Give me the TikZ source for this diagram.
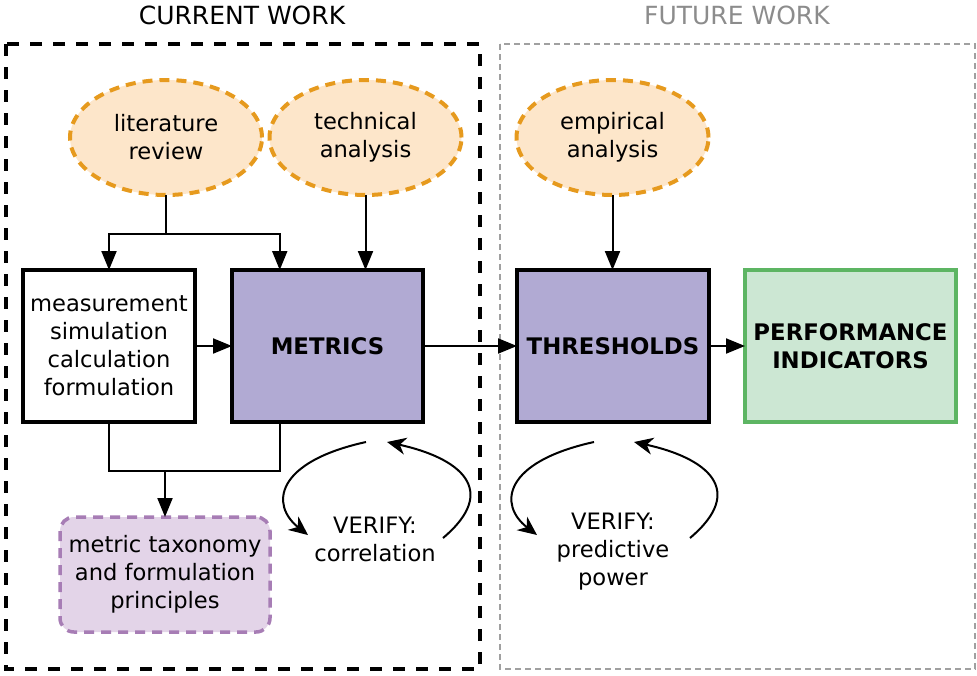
\documentclass[tikz,border=0pt]{standalone}
\usepackage{fontspec}
\setmainfont{DejaVu Sans}
\usetikzlibrary{shapes.geometric,arrows.meta,calc}

\definecolor{srcline}{HTML}{E69A1E}
\definecolor{srcfill}{HTML}{FDE6CA}
\definecolor{coreFill}{HTML}{B1AAD3}
\definecolor{kpiLine}{HTML}{5DB563}
\definecolor{kpiFill}{HTML}{CCE7D3}
\definecolor{taxLine}{HTML}{A77DB5}
\definecolor{taxFill}{HTML}{E3D4E8}
\definecolor{futureGray}{HTML}{8C8C8C}
\definecolor{futureFrame}{HTML}{A0A0A0}

\tikzset{
  txt/.style={font=\fontsize{22.6}{28}\selectfont, align=center, inner sep=0pt, outer sep=0pt},
  source/.style={txt, ellipse, draw=srcline, fill=srcfill, line width=4pt,
    dash pattern=on 10pt off 7pt, minimum width=192pt, minimum height=115pt},
  plainbox/.style={txt, rectangle, draw=black, fill=white, line width=4pt,
    minimum height=152pt},
  corebox/.style={plainbox, fill=coreFill, font=\fontsize{22.8}{28}\selectfont\bfseries},
  kpibox/.style={corebox, draw=kpiLine, fill=kpiFill},
  taxbox/.style={txt, rectangle, rounded corners=14pt, draw=taxLine, fill=taxFill,
    line width=3.5pt, dash pattern=on 10pt off 7pt, minimum width=210pt, minimum height=115pt},
  conn/.style={line width=2pt, draw=black},
  arrow/.style={conn, -{Triangle[length=19pt,width=15pt]}},
  loop/.style={conn, -{Stealth[length=19pt,width=17pt,inset=6pt]}},
  title/.style={font=\fontsize{25}{28}\selectfont, inner sep=0pt},
}

\begin{document}
\begin{tikzpicture}[x=1pt,y=-1pt]
  \useasboundingbox (0,0) rectangle (977,675);

  % work areas
  \draw[line width=4.5pt, dash pattern=on 12pt off 11pt] (6,44) rectangle (480,669);
  \draw[futureFrame, line width=1.8pt, dash pattern=on 6pt off 4pt] (500,44) rectangle (975,669);
  \node[title] (curTitle) at (242,15) {CURRENT WORK};
  \node[title, text=futureGray] (futTitle) at (737,15) {FUTURE WORK};

  % sources
  \node[source] (lit) at (166,137.5) {literature\\review};
  \node[source] (tech) at (365.5,137.5) {technical\\analysis};
  \node[source] (emp) at (612.5,137.5) {empirical\\analysis};

  % main chain
  \node[plainbox, minimum width=172pt] (meas) at (109,346)
    {measurement\\simulation\\calculation\\formulation};
  \node[corebox, minimum width=191pt] (metrics) at (327.5,346) {METRICS};
  \node[corebox, minimum width=192pt] (thr) at (613,346) {THRESHOLDS};
  \node[kpibox, minimum width=211pt] (kpi) at (850.5,346) {PERFORMANCE\\INDICATORS};

  % outcome
  \node[taxbox] (tax) at (165,574.5) {metric taxonomy\\and formulation\\principles};

  % verification labels
  \node[txt] (verCor) at (375,539) {VERIFY:\\correlation};
  \node[txt] (verPred) at (613,552) {VERIFY:\\predictive\\power};

  % connectors from the sources
  \coordinate (split) at (lit.south |- 0,234);
  \coordinate (metIn) at ($(metrics.north west)!0.25!(metrics.north east)$);
  \draw[conn] (lit.south) -- (split);
  \draw[arrow] (split) -| (meas.north);
  \draw[arrow] (split) -| (metIn);
  \draw[arrow] (tech.south) -- (tech.south |- metrics.north);
  \draw[arrow] (emp.south) -- (emp.south |- thr.north);

  % main flow
  \draw[arrow] (meas.east) -- (metrics.west);
  \draw[arrow] (metrics.east) -- (thr.west);
  \draw[arrow] (thr.east) -- (kpi.west);

  % merge into the taxonomy
  \coordinate (merge) at (tax.north |- 0,471);
  \coordinate (metOut) at ($(metrics.south west)!0.25!(metrics.south east)$);
  \draw[conn] (meas.south) |- (merge);
  \draw[conn] (metOut) |- (merge);
  \draw[arrow] (merge) -- (tax.north);

  % verification loops under METRICS
  \coordinate (c1) at (366,442);
  \coordinate (c2) at (308,535);
  \coordinate (c3) at (443,538);
  \coordinate (c4) at (387,442);
  \draw[loop] (c1) .. controls (275,462) and (270,505) .. (c2);
  \draw[loop] (c3) .. controls (500,490) and (460,458) .. (c4);

  % verification loops under THRESHOLDS
  \coordinate (p1) at (594,442);
  \coordinate (p2) at (537,535);
  \coordinate (p3) at (690,538);
  \coordinate (p4) at (634,442);
  \draw[loop] (p1) .. controls (503,462) and (498,505) .. (p2);
  \draw[loop] (p3) .. controls (747,490) and (707,458) .. (p4);
\end{tikzpicture}
\end{document}
